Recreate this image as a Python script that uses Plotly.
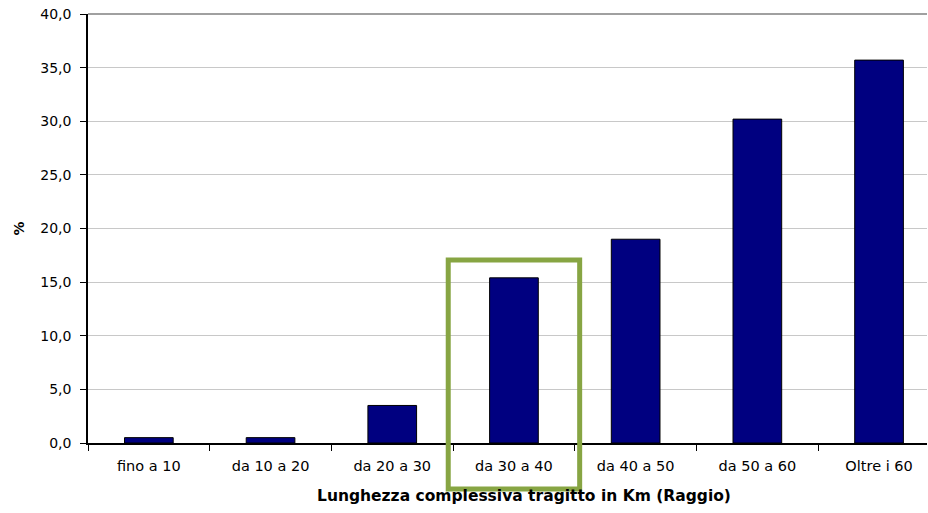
import plotly.graph_objects as go

categories = ["fino a 10", "da 10 a 20", "da 20 a 30", "da 30 a 40",
              "da 40 a 50", "da 50 a 60", "Oltre i 60"]
values = [0.5, 0.5, 3.5, 15.4, 19.0, 30.2, 35.7]
y_ticks = [0, 5, 10, 15, 20, 25, 30, 35, 40]
highlight_index = 3
x_title = "Lunghezza complessiva tragitto in Km (Raggio)"
y_title = "%"

W, H = 928, 513
L, R, T, B = 88, 1, 14, 70
plot_w = W - L - R
plot_h = H - T - B
cat_px = 121.7
x_min = -0.5
x_max = x_min + plot_w / cat_px
y_max = 40.0

FONT = "DejaVu Sans, Liberation Sans, Arial, sans-serif"

fig = go.Figure()
fig.add_trace(go.Bar(
    x=categories, y=values,
    marker=dict(color="#000080", line=dict(color="#000000", width=1)),
    width=0.4,
))

def px_x(v):
    return (v - x_min) / (x_max - x_min)

def px_y(v):
    return v / y_max

# highlight rectangle around "da 30 a 40"
fig.add_shape(type="rect", xref="paper", yref="paper",
              x0=px_x(highlight_index - 0.54), x1=px_x(highlight_index + 0.54),
              y0=px_y(-4.29), y1=px_y(17.06),
              line=dict(color="#87A543", width=5), fillcolor="rgba(0,0,0,0)",
              layer="above")
# top border line
fig.add_shape(type="line", xref="paper", yref="paper", x0=0, x1=1, y0=1, y1=1,
              line=dict(color="#808080", width=1.5), layer="below")

# axis titles
fig.add_annotation(text="<b>" + x_title + "</b>", xref="paper", yref="paper",
                   x=px_x(3.08), y=-53 / plot_h, xanchor="center", yanchor="middle",
                   showarrow=False, font=dict(family=FONT, size=15.5, color="#000000"))
fig.add_annotation(text="<b>" + y_title + "</b>", xref="paper", yref="paper",
                   x=-70 / plot_w, y=0.5, xanchor="center", yanchor="middle",
                   textangle=-90, showarrow=False,
                   font=dict(family=FONT, size=14, color="#000000"))

fig.update_layout(
    width=W, height=H,
    margin=dict(l=L, r=R, t=T, b=B, autoexpand=False),
    paper_bgcolor="white", plot_bgcolor="white",
    separators=",.",
    showlegend=False,
    font=dict(family=FONT, size=14, color="#000000"),
    xaxis=dict(
        type="category", range=[x_min, x_max], automargin=False,
        showline=True, linecolor="#000000", linewidth=1.5,
        ticks="outside", tickson="boundaries", ticklen=6, tickcolor="#000000",
        ticklabelstandoff=9, tickfont=dict(size=14.5),
        ticklabeloverflow="allow",
        showgrid=False,
    ),
    yaxis=dict(
        range=[0, y_max], tickvals=y_ticks, tickformat=".1f", automargin=False,
        showline=True, linecolor="#000000", linewidth=1.5,
        ticks="outside", ticklen=6, tickcolor="#000000",
        ticklabelstandoff=6, ticklabeloverflow="allow",
        showgrid=True, gridcolor="#C8C8C8", gridwidth=1,
        zeroline=False,
    ),
)

fig.write_html("out.html",
               config={"displayModeBar": False},
               post_script="document.body.style.margin='0';document.body.style.overflow='hidden';")
